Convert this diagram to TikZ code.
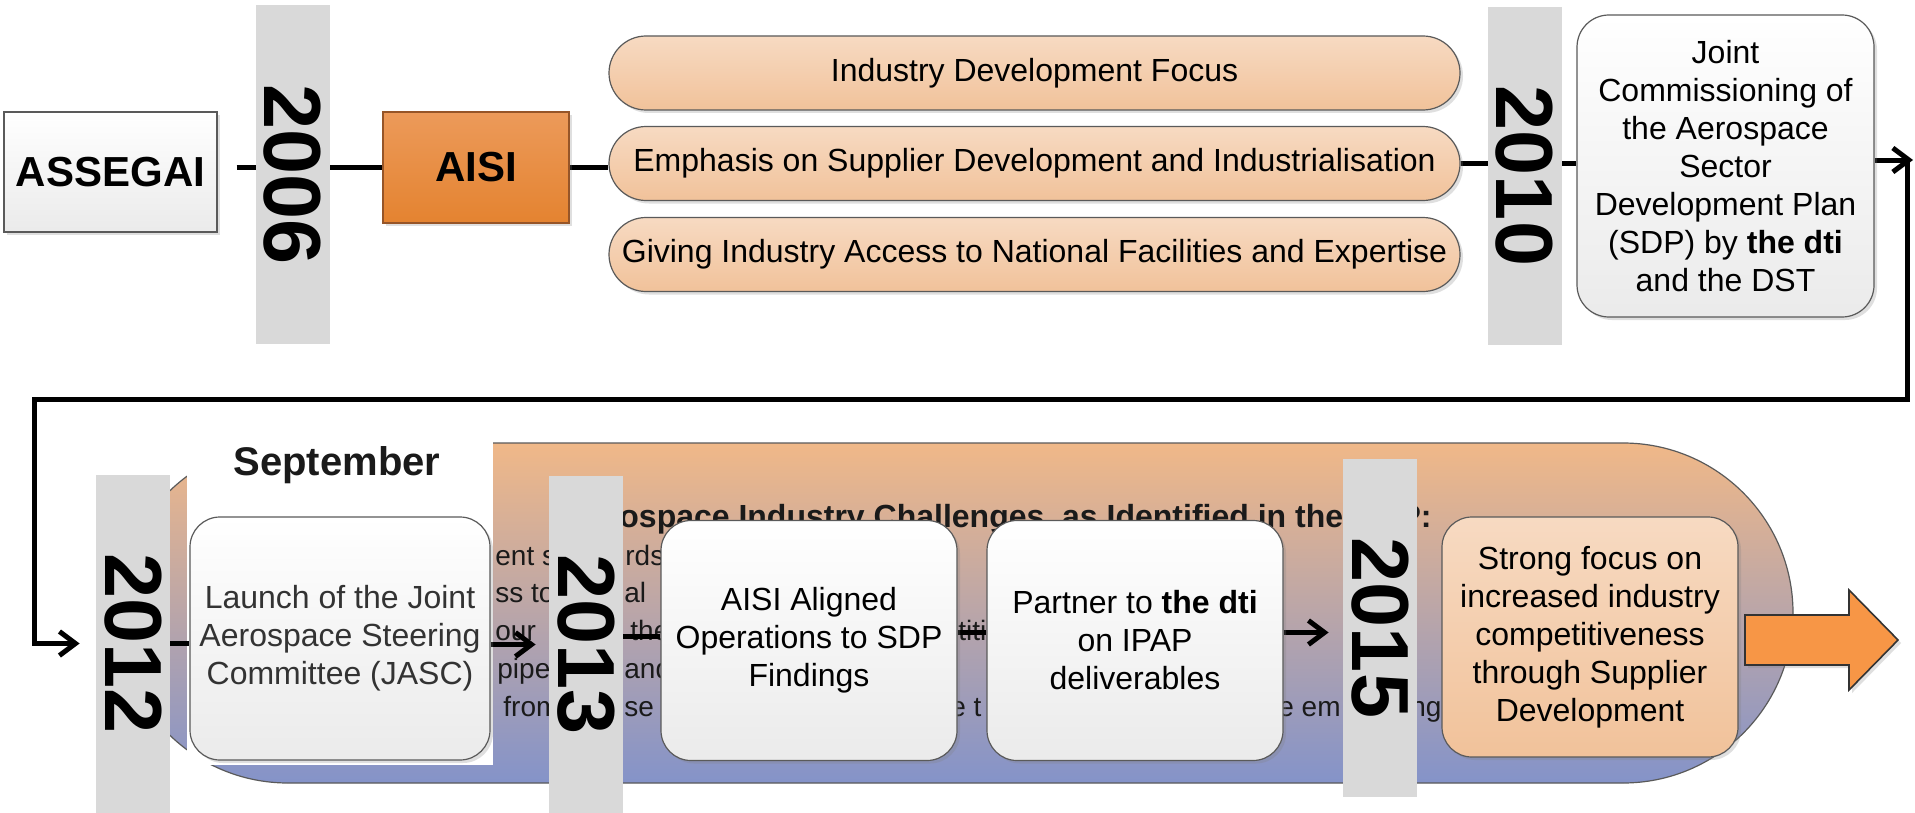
\documentclass[tikz,border=0pt]{standalone}
\usepackage{fontspec}
\setmainfont{Liberation Sans}
\usetikzlibrary{arrows.meta,calc,shadows}
\definecolor{bargray}{RGB}{217,217,217}
\definecolor{boxedge}{RGB}{90,90,90}
\definecolor{peachtop}{RGB}{247,218,194}
\definecolor{peachbot}{RGB}{241,194,154}
\definecolor{aisitop}{RGB}{236,154,90}
\definecolor{aisibot}{RGB}{228,131,48}
\definecolor{aisiedge}{RGB}{150,85,40}
\definecolor{bandtop}{RGB}{240,184,136}
\definecolor{bandbot}{RGB}{132,147,201}
\definecolor{bigarrow}{RGB}{247,150,70}
\definecolor{inktext}{RGB}{26,26,26}
\pgfdeclarelayer{band}
\pgfdeclarelayer{wire}
\pgfsetlayers{band,wire,main}

\begin{document}
\begin{tikzpicture}[x=0.5pt,y=-0.5pt,>={Straight Barb[length=8pt,width=12pt]}]
      \tikzstyle{yearbar}=[fill=bargray,inner sep=0pt,minimum width=37pt,minimum height=169pt,font=\fontsize{40.5pt}{40.5pt}\selectfont\bfseries]
      \tikzstyle{plainbox}=[draw=boxedge,line width=0.6pt,top color=white,bottom color=black!8,inner sep=0pt,align=center,font=\fontsize{16pt}{19pt}\selectfont,drop shadow={opacity=0.25,shadow xshift=1.5pt,shadow yshift=-1.5pt}]
      \tikzstyle{roundbox}=[plainbox,rounded corners=15pt,minimum width=148pt,minimum height=120pt]
      \tikzstyle{pill}=[plainbox,top color=peachtop,bottom color=peachbot,rounded corners=18.5pt,minimum width=425.5pt,minimum height=37pt]
      \tikzstyle{bigword}=[font=\fontsize{21pt}{21pt}\selectfont\bfseries]
      \tikzstyle{conn}=[line width=2.5pt]
      \tikzstyle{frag}=[anchor=base west,inner sep=0pt,text=inktext,font=\fontsize{14pt}{17pt}\selectfont]
      \path[use as bounding box] (0,0) rectangle (1915,813);
      \begin{pgfonlayer}{band}
        \fill[white] (0,0) rectangle (1915,813);
        \shade[top color=bandtop,bottom color=bandbot,draw=boxedge,line width=0.6pt,rounded corners=85pt] (118,443) rectangle (1793,783);
        \node[frag,font=\fontsize{16pt}{19pt}\selectfont\bfseries] (chal) at (619,527) {ospace Industry Challenges, as Identified in the};
        \node[frag,anchor=base east,font=\fontsize{16pt}{19pt}\selectfont\bfseries] (chalend) at (1432,527) {P:};
        \node[frag] (ta) at (495,565) {ent s};
        \node[frag] (tb) at (625,565) {rds};
        \node[frag] (tc) at (495,602) {ss to};
        \node[frag] (td) at (624,602) {al};
        \node[frag] (te) at (495,640) {our};
        \node[frag] (tf) at (630,640) {the};
        \node[frag] (tg) at (958,640) {titi};
        \node[frag] (th) at (497,678) {pipe};
        \node[frag] (ti) at (624,678) {and};
        \node[frag] (tj) at (503,716) {from};
        \node[frag] (tk) at (624,716) {se};
        \node[frag] (tl) at (950,716) {e t};
        \node[frag] (tm) at (1278,716) {e em};
        \node[frag] (tn) at (1410,716) {ng};
        \fill[white] (187,425) rectangle (493,765);
        \node[bigword,font=\fontsize{20pt}{20pt}\selectfont\bfseries,text=inktext] (sept) at (337,465) {September};
      \end{pgfonlayer}

      \node[yearbar] (y2006) at (292.5,174.5) {\rotatebox{-90}{2006}};
      \node[yearbar] (y2010) at (1524.5,176) {\rotatebox{-90}{2010}};
      \node[yearbar] (y2012) at (133,643.5) {\rotatebox{-90}{2012}};
      \node[yearbar] (y2013) at (586,644.5) {\rotatebox{-90}{2013}};
      \node[yearbar] (y2015) at (1380,628) {\rotatebox{-90}{2015}};

      \node[plainbox,bigword,minimum width=106.5pt,minimum height=60pt] (assegai) at (110.5,172) {ASSEGAI};
      \node[plainbox,bigword,top color=aisitop,bottom color=aisibot,draw=aisiedge,minimum width=93pt,minimum height=55.5pt] (aisi) at (476,167.5) {AISI};
      \node[pill] (focus) at (1034.5,73) {Industry Development Focus};
      \node[pill] (emph) at (1034.5,163.5) {Emphasis on Supplier Development and Industrialisation};
      \node[pill] (access) at (1034.5,254.5) {Giving Industry Access to National Facilities and Expertise};
      \node[plainbox,rounded corners=16pt,minimum width=148.5pt,minimum height=151pt] (sdp) at (1725.5,166) {Joint\\Commissioning of\\the Aerospace\\Sector\\Development Plan\\(SDP) by \textbf{the dti}\\and the DST};

      \node[roundbox,minimum width=150pt,minimum height=121.5pt,text=black!80] (jasc) at (340,638.5) {Launch of the Joint\\Aerospace Steering\\Committee (JASC)};
      \node[roundbox] (aligned) at (809,640.5) {AISI Aligned\\Operations to SDP\\Findings};
      \node[roundbox] (partner) at (1135,640.5) {Partner to \textbf{the dti}\\on IPAP\\deliverables};
      \node[roundbox,top color=peachtop,bottom color=peachbot] (strong) at (1590,637) {Strong focus on\\increased industry\\competitiveness\\through Supplier\\Development};
      \filldraw[fill=bigarrow,draw=black!80,line width=0.8pt,drop shadow={opacity=0.25,shadow xshift=1.5pt,shadow yshift=-1.5pt}] (1745,615) -- (1849,615) -- (1849,590) -- (1898,640) -- (1849,690) -- (1849,665) -- (1745,665) -- cycle;

      \coordinate (edge) at (1913,160);
      \coordinate (bend) at (1907,160);
      \coordinate (drop) at (34,399);
      \begin{pgfonlayer}{wire}
        \draw[conn,shorten <=9.5pt] (assegai.east |- aisi.west) -- (aisi.west);
        \draw[conn] (aisi.east) -- (emph.west |- aisi.east);
        \draw[conn] (emph.east) -- (sdp.west |- emph.east);
        \draw[conn,->] (sdp.east |- edge) -- (edge);
        \draw[conn,->,shorten >=8pt] (bend) |- (drop) |- (y2012.west);
        \draw[conn] (y2012.east) -- (jasc.west |- y2012.east);
        \draw[conn,->,shorten >=6.5pt] (jasc.east |- y2013.west) -- (y2013.west);
        \draw[conn] ([yshift=4pt]y2013.east) -- ([yshift=4pt]y2013.east -| aligned.west);
        \draw[conn] ([yshift=4pt]aligned.east) -- ([yshift=4pt]partner.west);
        \draw[conn,->,shorten >=7pt] ([yshift=4pt]partner.east) -- ([yshift=4pt]partner.east -| y2015.west);
      \end{pgfonlayer}
    \end{tikzpicture}
\end{document}
